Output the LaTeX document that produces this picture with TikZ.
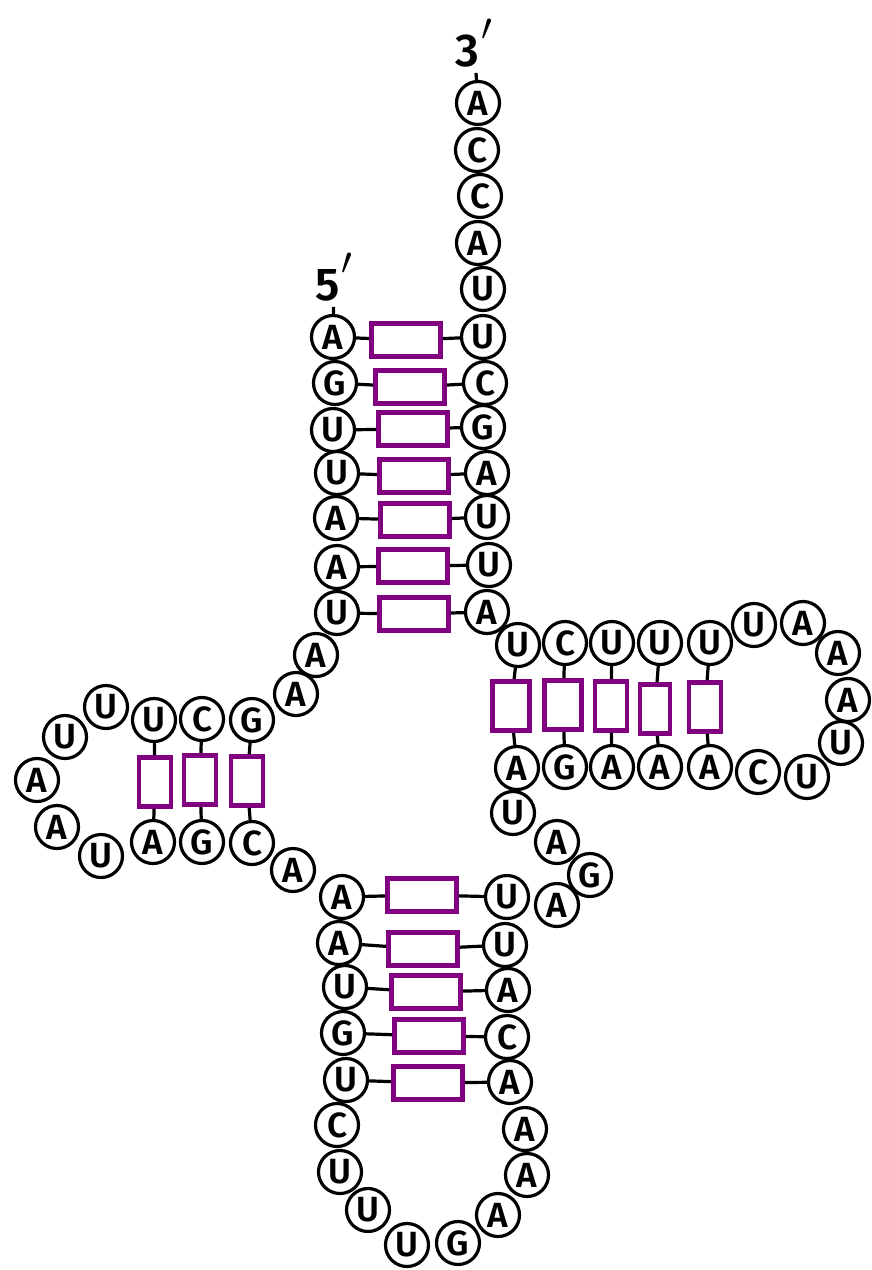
\documentclass[tikz,border=0pt]{standalone}
\usepackage{fontspec}
\setmainfont{Fira Sans}
\newfontfamily\basefont{Fira Sans SemiBold}
\definecolor{basepurple}{RGB}{128,0,128}
\newcommand{\primo}{\hspace{2pt}\raisebox{0.56em}{\scalebox{1.55}{$\prime$}}}
\tikzset{
  base/.style={circle, draw, line width=3.2pt, minimum size=43pt, inner sep=0pt,
    font=\basefont\fontsize{35}{35}\selectfont},
  pairbox/.style={draw=basepurple, line width=4.8pt, fill=white, minimum width=69pt, minimum height=33pt, inner sep=0pt},
  pairtall/.style={pairbox, minimum width=32pt, minimum height=49pt},
  stub/.style={line width=3.2pt},
  endlabel/.style={font=\basefont\fontsize{46}{46}\selectfont, inner sep=0pt, anchor=base}
}
\begin{document}
\begin{tikzpicture}[x=1pt,y=-1pt]
        \useasboundingbox (0,0) rectangle (871,1270);

        % estremita
        \node[endlabel] (cinque) at (334,300) {5\primo};
        \node[endlabel] (tre) at (474,66) {3\primo};

        % stelo accettore lato 5'
        \node[base] (s1) at (333,337) {A};
        \node[base] (s2) at (335,383) {G};
        \node[base] (s3) at (333,430) {U};
        \node[base] (s4) at (337,473) {U};
        \node[base] (s5) at (336,518) {A};
        \node[base] (s6) at (337,567) {A};
        \node[base] (s7) at (337,613) {U};

        % stelo accettore lato 3'
        \node[base] (t1) at (478,103) {A};
        \node[base] (t2) at (477,150) {C};
        \node[base] (t3) at (480,196) {C};
        \node[base] (t4) at (478,243) {A};
        \node[base] (t5) at (483,289) {U};
        \node[base] (t6) at (483,337) {U};
        \node[base] (t7) at (485,383) {C};
        \node[base] (t8) at (483,427) {G};
        \node[base] (t9) at (487,473) {A};
        \node[base] (t10) at (487,517) {U};
        \node[base] (t11) at (489,565) {U};
        \node[base] (t12) at (487,612) {A};

        % giunzione
        \node[base] (j1) at (316,655) {A};
        \node[base] (j2) at (296,694) {A};

        % braccio D
        \node[base] (d1) at (252,720) {G};
        \node[base] (d2) at (202,719) {C};
        \node[base] (d3) at (154,720) {U};
        \node[base] (d4) at (106,707) {U};
        \node[base] (d5) at (65,737) {U};
        \node[base] (d6) at (37,780) {A};
        \node[base] (d7) at (57,827) {A};
        \node[base] (d8) at (101,856) {U};
        \node[base] (d9) at (153,842) {A};
        \node[base] (d10) at (202,842) {G};
        \node[base] (d11) at (252,843) {C};
        \node[base] (j3) at (293,870) {A};

        % braccio anticodone
        \node[base] (e1) at (342,897) {A};
        \node[base] (e2) at (339,943) {A};
        \node[base] (e3) at (345,987) {U};
        \node[base] (e4) at (343,1033) {G};
        \node[base] (e5) at (346,1080) {U};
        \node[base] (e6) at (337,1125) {C};
        \node[base] (e7) at (340,1172) {U};
        \node[base] (e8) at (368,1210) {U};
        \node[base] (e9) at (407,1245) {U};
        \node[base] (e10) at (458,1243) {G};
        \node[base] (e11) at (498,1215) {A};
        \node[base] (e12) at (527,1175) {A};
        \node[base] (e13) at (525,1129) {A};
        \node[base] (e14) at (510,1082) {A};
        \node[base] (e15) at (507,1037) {C};
        \node[base] (e16) at (508,990) {A};
        \node[base] (e17) at (505,945) {U};
        \node[base] (e18) at (507,897) {U};

        % ansa variabile
        \node[base] (v1) at (557,905) {A};
        \node[base] (v2) at (590,875) {G};
        \node[base] (v3) at (557,842) {A};
        \node[base] (v4) at (513,813) {U};

        % braccio T
        \node[base] (w1) at (517,768) {A};
        \node[base] (w2) at (565,767) {G};
        \node[base] (w3) at (612,767) {A};
        \node[base] (w4) at (660,767) {A};
        \node[base] (w5) at (710,767) {A};
        \node[base] (w6) at (758,772) {C};
        \node[base] (w7) at (807,777) {U};
        \node[base] (w8) at (841,743) {U};
        \node[base] (w9) at (848,700) {A};
        \node[base] (w10) at (838,653) {A};
        \node[base] (w11) at (803,623) {A};
        \node[base] (w12) at (754,625) {U};
        \node[base] (w13) at (710,643) {U};
        \node[base] (w14) at (660,643) {U};
        \node[base] (w15) at (612,643) {U};
        \node[base] (w16) at (565,643) {C};
        \node[base] (w17) at (518,645) {U};

        % appaiamenti
        \node[pairbox] (a1) at (406,340) {};
        \node[pairbox] (a2) at (410,387) {};
        \node[pairbox] (a3) at (413,429) {};
        \node[pairbox] (a4) at (414,476) {};
        \node[pairbox] (a5) at (415,520) {};
        \node[pairbox] (a6) at (413,566) {};
        \node[pairbox] (a7) at (414,614) {};
        \node[pairtall] (b1) at (155,782) {};
        \node[pairtall] (b2) at (200,780) {};
        \node[pairtall] (b3) at (247,781) {};
        \node[pairbox] (c1) at (422,895) {};
        \node[pairbox] (c2) at (423,949) {};
        \node[pairbox] (c3) at (426,992) {};
        \node[pairbox] (c4) at (429,1036) {};
        \node[pairbox] (c5) at (428,1083) {};
        \node[pairtall, minimum width=37pt] (f1) at (511,706) {};
        \node[pairtall, minimum width=37pt] (f2) at (563,705) {};
        \node[pairtall] (f3) at (611,706) {};
        \node[pairtall, minimum width=30pt] (f4) at (655,709) {};
        \node[pairtall] (f5) at (705,707) {};

        % legami
        \draw[stub] (s1) -- (a1); \draw[stub] (a1) -- (t6);
        \draw[stub] (s2) -- (a2); \draw[stub] (a2) -- (t7);
        \draw[stub] (s3) -- (a3); \draw[stub] (a3) -- (t8);
        \draw[stub] (s4) -- (a4); \draw[stub] (a4) -- (t9);
        \draw[stub] (s5) -- (a5); \draw[stub] (a5) -- (t10);
        \draw[stub] (s6) -- (a6); \draw[stub] (a6) -- (t11);
        \draw[stub] (s7) -- (a7); \draw[stub] (a7) -- (t12);
        \draw[stub] (d3) -- (b1); \draw[stub] (b1) -- (d9);
        \draw[stub] (d2) -- (b2); \draw[stub] (b2) -- (d10);
        \draw[stub] (d1) -- (b3); \draw[stub] (b3) -- (d11);
        \draw[stub] (e1) -- (c1); \draw[stub] (c1) -- (e18);
        \draw[stub] (e2) -- (c2); \draw[stub] (c2) -- (e17);
        \draw[stub] (e3) -- (c3); \draw[stub] (c3) -- (e16);
        \draw[stub] (e4) -- (c4); \draw[stub] (c4) -- (e15);
        \draw[stub] (e5) -- (c5); \draw[stub] (c5) -- (e14);
        \draw[stub] (w17) -- (f1); \draw[stub] (f1) -- (w1);
        \draw[stub] (w16) -- (f2); \draw[stub] (f2) -- (w2);
        \draw[stub] (w15) -- (f3); \draw[stub] (f3) -- (w3);
        \draw[stub] (w14) -- (f4); \draw[stub] (f4) -- (w4);
        \draw[stub] (w13) -- (f5); \draw[stub] (f5) -- (w5);
        \draw[stub, shorten <=6pt] (cinque) -- (s1);
        \draw[stub, shorten <=6pt] (tre) -- (t1);
    \end{tikzpicture}
\end{document}
